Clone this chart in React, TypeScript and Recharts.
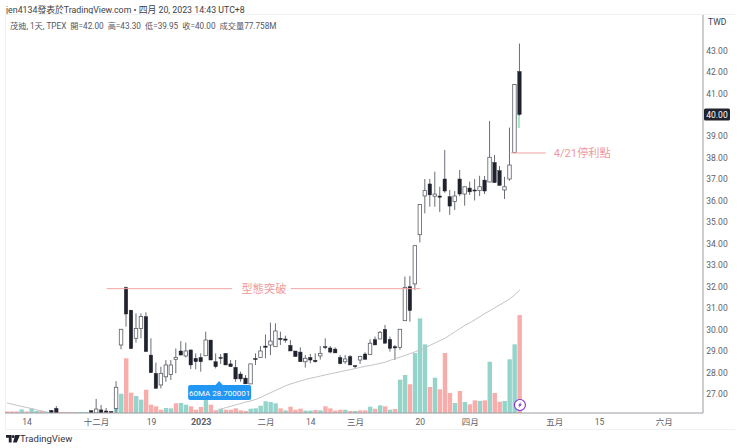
import React from "react";
import {
  ComposedChart, Bar, Line, XAxis, YAxis, ReferenceLine, ReferenceDot, ReferenceArea,
} from "recharts";

const FONT = 'Roboto, "Noto Sans CJK TC", sans-serif';
const n = null;

const opens = [
  n, n, n, n, n, n, n, n, n, 26.24,
  26.33, n, n, n, n, n, n, 26.22, 26.12, 26.26,
  26.21, 26.18, 26.33, 29.28, 31.95, 30.9, 29.59, 30.05, 30.6, 28.81,
  27.96, 27.42, 27.8, 27.91, 28.61, 29.0, 28.77, 29.05, 28.66, 28.7,
  28.78, 29.51, 28.5, 28.7, 28.89, 28.4, 28.24, 27.93, 27.74, 27.47,
  28.65, 28.7, 29.23, 29.28, 29.2, 29.59, 29.56, 29.26, 29.0, 28.95,
  28.5, 28.7, 28.57, 28.77, 29.2, 29.14, 29.09, 28.7, 28.5, 28.74,
  28.32, 28.58, 28.86, 28.84, 29.53, 29.56, 30.01, 29.54, 29.2, 29.17,
  30.41, 31.99, 32.12, 34.41, 36.21, 36.77, 36.2, 36.21, 37.0, 36.18,
  35.95, 37.0, 36.3, 36.58, 36.49, 36.47, 36.95, 36.86, 37.77, 37.39,
  36.49, 37.0, 38.23, 42.0,
];
const highs = [
  n, n, n, n, n, n, n, n, n, 26.26,
  26.44, n, n, n, n, n, n, 26.24, 26.77, 26.49,
  26.35, 26.2, 27.6, 30.01, 32.0, 30.9, 30.75, 30.75, 30.8, 29.59,
  28.46, 28.27, 28.58, 28.58, 29.12, 29.46, 29.39, 29.05, 28.89, 28.89,
  29.9, 29.51, 28.89, 28.86, 28.89, 28.58, 28.58, 28.04, 27.88, 28.4,
  28.89, 29.23, 29.77, 30.32, 30.29, 29.9, 29.71, 29.51, 29.0, 29.17,
  28.81, 28.86, 28.89, 29.23, 29.59, 29.23, 29.17, 28.81, 28.81, 28.81,
  28.35, 28.78, 28.94, 29.54, 29.67, 29.93, 30.21, 29.67, 29.28, 30.01,
  32.46, 32.49, 33.9, 35.81, 37.0, 37.0, 37.34, 36.64, 38.35, 36.49,
  36.44, 37.42, 36.64, 36.88, 37.0, 37.15, 37.14, 39.7, 38.12, 37.6,
  37.1, 39.39, 41.4, 43.3,
];
const lows = [
  n, n, n, n, n, n, n, n, n, 26.13,
  26.13, n, n, n, n, n, n, 26.13, 26.12, 26.12,
  26.14, 26.13, 26.13, 29.08, 30.13, 29.11, 29.39, 29.59, 28.97, 27.99,
  27.26, 27.26, 27.57, 27.65, 27.96, 28.81, 28.7, 28.16, 28.15, 28.04,
  28.78, 28.58, 28.19, 28.4, 28.35, 28.27, 27.57, 27.57, 27.47, 27.47,
  28.35, 28.7, 28.66, 28.81, 29.2, 29.28, 29.39, 29.0, 28.74, 28.5,
  28.23, 28.43, 28.46, 28.6, 29.08, 28.89, 28.91, 28.38, 28.4, 28.35,
  28.18, 28.4, 28.61, 28.81, 29.28, 29.56, 29.36, 28.97, 28.58, 29.05,
  30.41, 30.36, 31.84, 34.05, 35.4, 35.71, 35.71, 35.46, 36.36, 35.33,
  35.56, 36.2, 35.76, 36.26, 36.0, 36.21, 36.3, 36.86, 36.83, 36.7,
  36.07, 36.92, 38.23, 39.95,
];
const closes = [
  n, n, n, n, n, n, n, n, n, 26.13,
  26.13, n, n, n, n, n, n, 26.13, 26.3, 26.12,
  26.14, 26.13, 27.31, 30.01, 30.72, 29.11, 30.05, 30.6, 28.97, 27.99,
  27.26, 27.96, 28.35, 28.35, 28.7, 28.81, 29.0, 28.35, 28.5, 28.5,
  29.51, 28.58, 28.27, 28.66, 28.35, 28.27, 27.7, 27.7, 27.47, 28.4,
  28.6, 29.0, 29.17, 29.46, 29.93, 29.53, 29.5, 29.0, 28.74, 28.5,
  28.66, 28.58, 28.5, 28.89, 29.17, 28.95, 28.91, 28.41, 28.63, 28.35,
  28.27, 28.74, 28.61, 29.36, 29.28, 29.87, 29.36, 29.12, 29.14, 30.01,
  31.96, 30.88, 33.9, 35.81, 36.46, 36.26, 36.3, 36.15, 36.44, 35.74,
  36.21, 36.3, 36.64, 36.4, 36.44, 36.64, 36.44, 38.01, 36.83, 36.7,
  36.64, 37.65, 41.4, 40.0,
];
const volumes = [
  1.2, 1.2, 1.2, 2.8, 1.2, 3.5, 1.6, 1.6, 1, 1.2,
  1.2, 0.8, 0.8, 0.8, 0.8, 0.8, 0.8, 0.8, 1, 1,
  1, 1.5, 4.2, 15.3, 43.4, 16.1, 13.5, 10.6, 18.5, 6.6,
  5.3, 2.6, 4, 3.7, 7.7, 7.9, 6.6, 5.3, 2.6, 4.8,
  11.4, 6.6, 2.1, 3.4, 2.6, 2.6, 3.7, 2.1, 1.6, 3.4,
  3.7, 5.8, 9.3, 8.7, 7.7, 3.7, 2.1, 5, 2.6, 3.4,
  1.9, 1.9, 2.4, 2.1, 5.3, 3.7, 1.9, 2.6, 2.6, 1.6,
  1.6, 2.1, 2.1, 5, 3.4, 6.1, 5.3, 2.6, 3.2, 26.5,
  30.2, 22.8, 47.6, 75.1, 54.5, 20.6, 28, 18.8, 47.6, 15.9,
  7.9, 17.5, 8.7, 6.9, 10, 9.5, 10, 40.7, 15.9, 9,
  9.5, 42.6, 54.5, 77.758,
];
const volumeRising = [
  0, 0, 0, 1, 0, 1, 1, 0, 1, 1,
  0, 0, 0, 0, 1, 1, 1, 0, 1, 0,
  0, 0, 1, 1, 0, 0, 1, 1, 0, 0,
  0, 0, 1, 1, 0, 1, 1, 0, 0, 0,
  1, 0, 0, 1, 0, 0, 0, 0, 0, 1,
  1, 1, 1, 1, 1, 0, 1, 0, 0, 0,
  1, 1, 0, 1, 0, 0, 0, 0, 1, 0,
  1, 0, 0, 1, 0, 1, 0, 1, 0, 1,
  1, 0, 1, 1, 1, 0, 1, 0, 0, 0,
  1, 0, 1, 0, 0, 1, 0, 1, 0, 0,
  1, 1, 1, 0,
];
const ma60 = [
  26.58, 26.53, 26.47, 26.42, 26.37, 26.32, 26.26, 26.21, 26.16, n,
  n, n, n, n, n, n, n, n, n, n,
  n, n, n, n, n, n, n, n, n, n,
  n, n, n, n, n, n, n, n, n, n,
  n, n, 26.2, 26.3, 26.37, 26.43, 26.5, 26.56, 26.63, 26.68,
  26.75, 26.85, 26.96, 27.07, 27.17, 27.28, 27.39, 27.47, 27.54, 27.61,
  27.68, 27.74, 27.78, 27.84, 27.89, 27.94, 27.99, 28.04, 28.09, 28.13,
  28.19, 28.24, 28.29, 28.33, 28.38, 28.43, 28.48, 28.57, 28.65, 28.72,
  28.8, 28.88, 28.97, 29.05, 29.16, 29.27, 29.38, 29.49, 29.6, 29.75,
  29.9, 30.05, 30.2, 30.32, 30.46, 30.6, 30.75, 30.88, 31.02, 31.15,
  31.29, 31.43, 31.62, 31.84,
];
const priceTicks = [27, 28, 29, 30, 31, 32, 33, 34, 35, 36, 37, 38, 39, 40, 41, 42, 43];
const lastPrice = 40;
const dateTickIndexes = [4, 18, 29, 39, 52, 61, 70, 83, 93, 110, 119, 132];
const dateTickLabels = ["14", "十二月", "19", "2023", "二月", "14", "三月", "20", "四月", "五月", "15", "六月"];

const rows = volumes.map((v, i) => ({
  i,
  volume: v,
  rising: volumeRising[i] === 1,
  open: opens[i],
  high: highs[i],
  low: lows[i],
  close: closes[i],
  ma: ma60[i],
}));

const Candle = (p: any) => {
  const { x, y, width, height, payload } = p;
  if (payload.high == null || !Number.isFinite(y)) return null;
  const k = height / (payload.high - payload.low);
  const cx = x + width / 2;
  const top = y + (payload.high - Math.max(payload.open, payload.close)) * k;
  const bh = Math.abs(payload.open - payload.close) * k;
  const up = payload.close >= payload.open;
  return (
    <g>
      <line x1={cx} x2={cx} y1={y} y2={y + height} stroke="#6b6e76" strokeWidth={1} />
      <rect
        x={x + 0.25}
        y={top}
        width={width - 0.5}
        height={Math.max(bh, 1)}
        fill={up ? "#ffffff" : "#20232d"}
        stroke={up ? "#5c5f67" : "#20232d"}
        strokeWidth={up ? 0.8 : 0.4}
      />
    </g>
  );
};

const VolumeBar = (p: any) => {
  const { x, y, width, height, payload } = p;
  return <rect x={x} y={y} width={width} height={height} fill={payload.rising ? "#94d4cb" : "#f8adab"} />;
};

const PriceTick = (p: any) => {
  const { x, y, payload } = p;
  const isLast = payload.value === lastPrice;
  return (
    <g>
      {isLast && <rect x={x - 7} y={y - 6} width={26} height={12} rx={1.5} fill="#20232d" />}
      <text
        x={x + 6}
        y={y + 3.5}
        textAnchor="middle"
        fontSize={8.5}
        fontFamily={FONT}
        fill={isLast ? "#ffffff" : "#5e6068"}
      >
        {payload.value.toFixed(2)}
      </text>
    </g>
  );
};

const DateTick = (p: any) => {
  const { x, y, payload } = p;
  const label = dateTickLabels[dateTickIndexes.indexOf(payload.value)];
  return (
    <text
      x={x}
      y={y + 4}
      textAnchor="middle"
      fontSize={label === "2023" ? 9 : 8.5}
      fontWeight={label === "2023" ? 700 : 400}
      fontFamily={FONT}
      fill="#5e6068"
    >
      {label}
    </text>
  );
};

const MaBadge = (p: any) => {
  const { cx, cy } = p;
  return (
    <g>
      <path d={`M${cx - 4} ${cy + 4.5} L${cx} ${cy} L${cx + 4} ${cy + 4.5} Z`} fill="#2196f3" />
      <rect x={cx - 31} y={cy + 4} width={63} height={15} rx={2} fill="#2196f3" />
      <text x={cx + 0.5} y={cy + 14.5} textAnchor="middle" fontSize={8} fontFamily={FONT} fill="#ffffff">
        60MA 28.700001
      </text>
    </g>
  );
};

const BoltBadge = (p: any) => {
  const { cx, cy } = p;
  return (
    <g>
      <circle cx={cx} cy={cy} r={5.5} fill="#ffffff" stroke="#7c2fd6" strokeWidth={1.1} />
      <path
        d={`M${cx + 1.5} ${cy - 3.2} L${cx - 2} ${cy + 0.6} L${cx - 0.2} ${cy + 0.6} L${cx - 1.5} ${cy + 3.2} L${cx + 2} ${cy - 0.6} L${cx + 0.2} ${cy - 0.6} Z`}
        fill="#7c2fd6"
      />
    </g>
  );
};

const AnnoLabel = (p: any) => {
  const { cx, cy, text } = p;
  return (
    <text x={cx} y={cy + 4} textAnchor="middle" fontSize={11.2} fontFamily={FONT} fill="#ee9a9c">
      {text}
    </text>
  );
};

const xDomain: [number, number] = [-0.4, 139.76];
const ANNO = "#f4a3a5";

export default function App() {
  return (
    <div style={{ position: "absolute", left: 0, top: 0, width: 740, height: 448, background: "#fff", overflow: "hidden", fontFamily: FONT }}>
      <div style={{ position: "absolute", left: 6, top: 3, fontSize: 8.8, color: "#3c3e45", whiteSpace: "nowrap" }}>
        jen4134發表於TradingView.com • 四月 20, 2023 14:43 UTC+8
      </div>
      <div style={{ position: "absolute", left: 10, top: 19, fontSize: 8.2, color: "#55575f", whiteSpace: "pre" }}>
        茂迪, 1天, TPEX  開=42.00  高=43.30  低=39.95  收=40.00  成交量77.758M
      </div>
      <div style={{ position: "absolute", left: 5, top: 14, width: 730, height: 1, background: "#f1f1f1" }} />
      <div style={{ position: "absolute", left: 5, top: 14, width: 1, height: 415, background: "#f1f1f1" }} />
      <div style={{ position: "absolute", left: 5, top: 429, width: 730, height: 1, background: "#f1f1f1" }} />
      <div style={{ position: "absolute", left: 708, top: 17, fontSize: 8.5, color: "#3c3e45" }}>TWD</div>
      <svg style={{ position: "absolute", left: 6, top: 435 }} width={14} height={8} viewBox="0 0 14 8">
        <path d="M0 0 H5.6 V7.6 H2.8 V2.8 H0 Z M9.2 0 H14 L10.8 7.6 H7 Z" fill="#20232d" />
        <circle cx={7.2} cy={1.6} r={1.5} fill="#20232d" />
      </svg>
      <div style={{ position: "absolute", left: 20, top: 433, fontSize: 9.5, color: "#33353c" }}>TradingView</div>
      <ComposedChart
        width={740}
        height={448}
        data={rows}
        margin={{ top: 15, right: 0, bottom: 0, left: 5 }}
        style={{ position: "absolute", left: 0, top: 0 }}
      >
        <XAxis
          xAxisId="time"
          dataKey="i"
          type="number"
          domain={xDomain}
          allowDataOverflow
          ticks={dateTickIndexes}
          interval={0}
          tick={<DateTick />}
          tickLine={false}
          axisLine={{ stroke: "#9a9ca3", strokeWidth: 1 }}
          height={35}
        />
        <XAxis xAxisId="vol" dataKey="i" type="number" domain={xDomain} allowDataOverflow hide />
        <YAxis
          yAxisId="price"
          orientation="right"
          type="number"
          domain={[26.116, 44.628]}
          allowDataOverflow
          ticks={priceTicks}
          interval={0}
          tick={<PriceTick />}
          tickLine={false}
          axisLine={{ stroke: "#9a9ca3", strokeWidth: 1 }}
          width={37}
        />
        <YAxis yAxisId="volume" type="number" domain={[0, 315.9]} allowDataOverflow hide />
        <Bar xAxisId="vol" yAxisId="volume" dataKey="volume" barSize={4.4} shape={<VolumeBar />} isAnimationActive={false} />
        <Line
          xAxisId="time"
          yAxisId="price"
          dataKey="ma"
          stroke="#c4c4c6"
          strokeWidth={1}
          dot={false}
          activeDot={false}
          isAnimationActive={false}
        />
        <Bar
          xAxisId="time"
          yAxisId="price"
          dataKey={(d: any) => (d.high == null ? null : [d.low, d.high])}
          barSize={4}
          shape={<Candle />}
          isAnimationActive={false}
        />
        <ReferenceArea xAxisId="time" yAxisId="price" x1={102.55} x2={103} y1={39.37} y2={39.98} fill="#a9e6c6" fillOpacity={1} stroke="none" />
        <ReferenceLine xAxisId="time" yAxisId="price" segment={[{ x: 20, y: 31.9 }, { x: 45.2, y: 31.9 }]} stroke={ANNO} strokeWidth={1} />
        <ReferenceLine xAxisId="time" yAxisId="price" segment={[{ x: 57, y: 31.9 }, { x: 83, y: 31.9 }]} stroke={ANNO} strokeWidth={1} />
        <ReferenceLine xAxisId="time" yAxisId="price" segment={[{ x: 101.2, y: 38.21 }, { x: 108.2, y: 38.21 }]} stroke={ANNO} strokeWidth={1} />
        <ReferenceDot xAxisId="time" yAxisId="price" x={51.6} y={31.9} r={0} shape={<AnnoLabel text="型態突破" />} />
        <ReferenceDot xAxisId="time" yAxisId="price" x={115.5} y={38.21} r={0} shape={<AnnoLabel text="4/21停利點" />} />
        <ReferenceDot xAxisId="time" yAxisId="price" x={42.6} y={27.6} r={0} shape={<MaBadge />} />
        <ReferenceDot xAxisId="time" yAxisId="price" x={103} y={26.49} r={0} shape={<BoltBadge />} />
      </ComposedChart>
    </div>
  );
}
